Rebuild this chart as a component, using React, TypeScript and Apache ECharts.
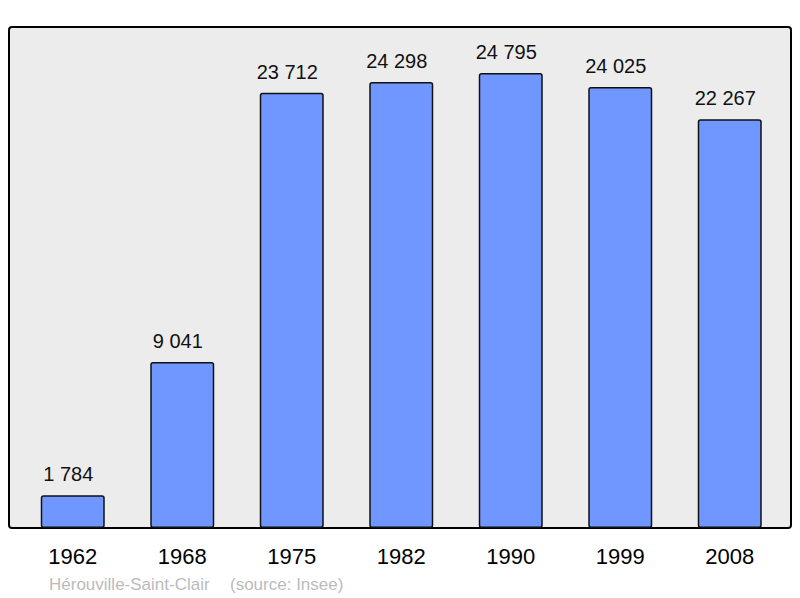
import React, { useEffect, useRef } from "react";
import * as echarts from "echarts";

const years = ["1962", "1968", "1975", "1982", "1990", "1999", "2008"];
const population = [1784, 9041, 23712, 24298, 24795, 24025, 22267];
const footerPlace = "Hérouville-Saint-Clair";
const footerSource = "(source: Insee)";

const fmt = (v: number) => String(v).replace(/\B(?=(\d{3})+(?!\d))/g, " ");
const FONT = "Liberation Sans, Arial, sans-serif";

export default function App() {
  const ref = useRef<HTMLDivElement>(null);
  useEffect(() => {
    if (!ref.current) return;
    const chart = echarts.init(ref.current, undefined, { renderer: "svg" });
    chart.setOption({
      animation: false,
      textStyle: { fontFamily: FONT },
      grid: { left: 18, right: 15.5, top: 27, bottom: 70 },
      graphic: [
        {
          type: "rect",
          z: -10,
          shape: { x: 9, y: 27, width: 782, height: 501, r: 3 },
          style: { fill: "#ececec", stroke: "#000", lineWidth: 2 },
        },
        {
          type: "text",
          x: 49,
          y: 584,
          style: {
            text: footerPlace,
            fill: "#bbbbbb",
            font: `17px ${FONT}`,
            verticalAlign: "middle",
          },
        },
        {
          type: "text",
          x: 230,
          y: 584,
          style: {
            text: footerSource,
            fill: "#bbbbbb",
            font: `17px ${FONT}`,
            verticalAlign: "middle",
          },
        },
      ],
      xAxis: {
        type: "category",
        data: years,
        axisLine: { show: false },
        axisTick: { show: false },
        axisLabel: {
          color: "#000",
          fontSize: 22,
          margin: 17,
          fontFamily: FONT,
        },
      },
      yAxis: {
        type: "value",
        min: 0,
        max: 27300,
        show: false,
        splitLine: { show: false },
      },
      series: [
        {
          type: "bar",
          data: population,
          barWidth: 64,
          itemStyle: {
            color: "#7096ff",
            borderColor: "#111",
            borderWidth: 1.5,
            borderRadius: 2,
          },
          label: {
            show: true,
            position: "top",
            distance: 11,
            offset: [-4.5, 0],
            color: "#111",
            fontSize: 20,
            fontFamily: FONT,
            formatter: (p: any) => fmt(p.value),
          },
        },
      ],
    });
    return () => chart.dispose();
  }, []);
  return (
    <div
      ref={ref}
      style={{ position: "absolute", left: 0, top: 0, width: 800, height: 598 }}
    />
  );
}
